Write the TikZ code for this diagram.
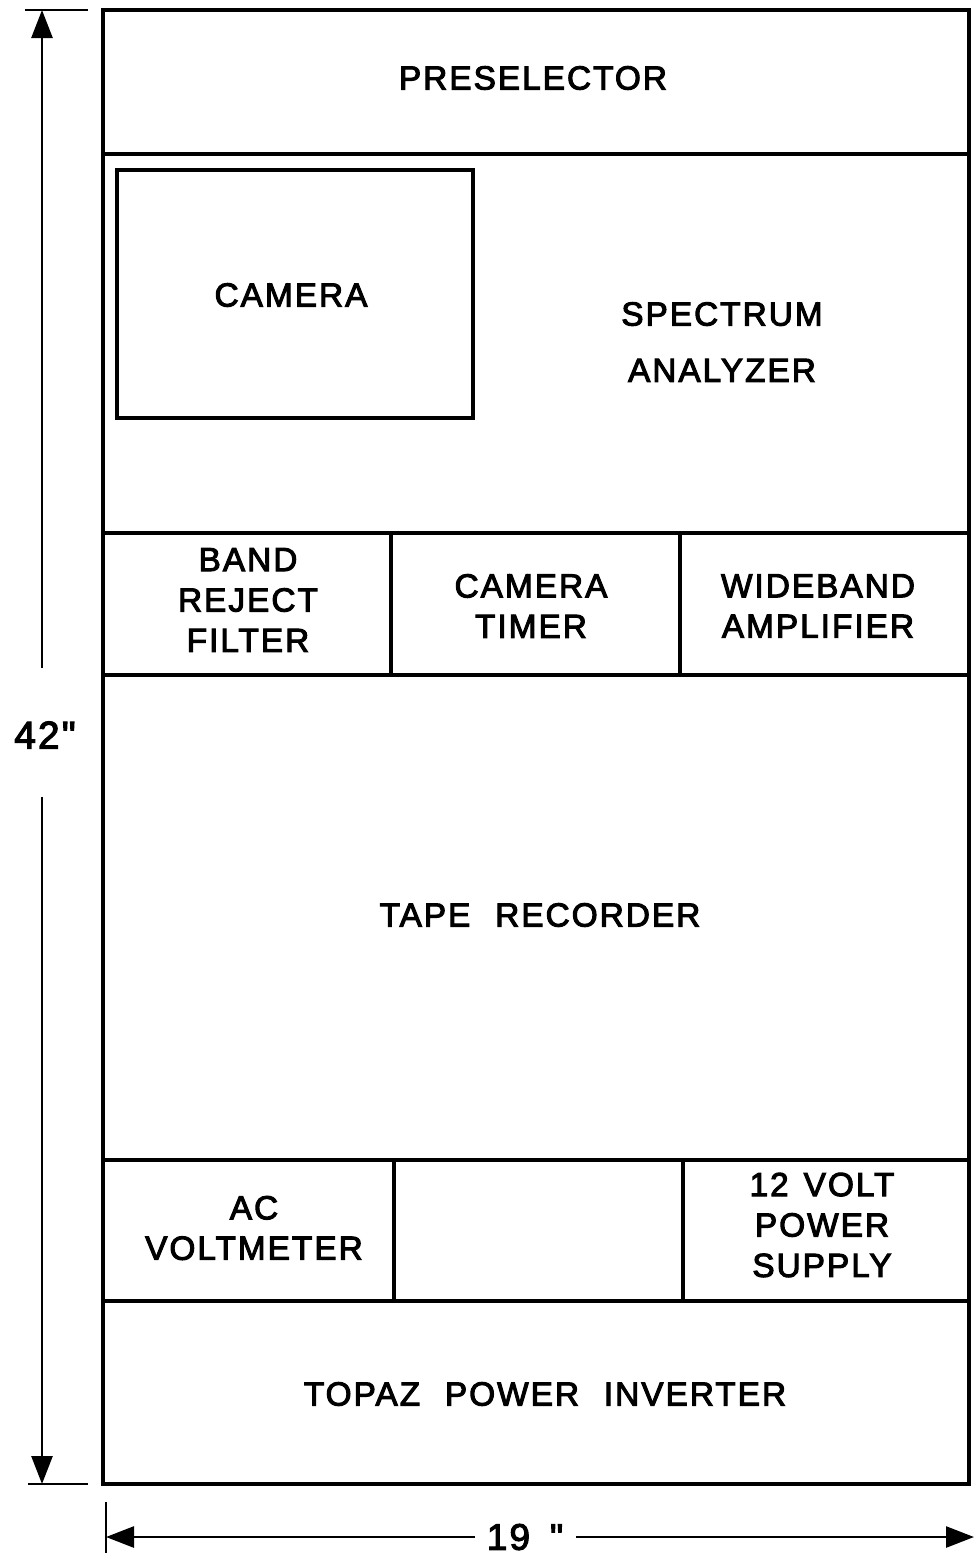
\documentclass[tikz,border=0pt]{standalone}
\usepackage{fontspec}
\usepackage{tikz}
\usetikzlibrary{arrows.meta}
\newfontfamily\letterfont[LetterSpace=6, WordSpace=2.2, FakeBold=3]{Liberation Sans}

\begin{document}
\begin{tikzpicture}[
            cell/.style={draw, line width=1.9pt, inner sep=0pt},
            lbl/.style={align=center, font=\letterfont\fontsize{19}{23}\selectfont},
            dim/.style={line width=1.5pt},
            dimarr/.style={-{Triangle[length=0.56cm, width=0.42cm]}, line width=1.5pt}
        ]
            \useasboundingbox (0,0) rectangle (19.48,-31.16);

            % rack outline, top to bottom
            \node[cell, minimum width=17.32cm, minimum height=2.88cm] (presel) at (10.72,-1.64) {};
            \node[cell, minimum width=17.32cm, minimum height=7.58cm] (spec)   at (10.72,-6.87) {};
            \node[cell, minimum width=7.12cm, minimum height=4.96cm]  (cam)    at (5.90,-5.88) {};

            \node[cell, minimum width=5.76cm, minimum height=2.84cm] (brf)   at (4.94,-12.08) {};
            \node[cell, minimum width=5.78cm, minimum height=2.84cm] (timer) at (10.71,-12.08) {};
            \node[cell, minimum width=5.78cm, minimum height=2.84cm] (amp)   at (16.49,-12.08) {};

            \node[cell, minimum width=17.32cm, minimum height=9.70cm] (tape) at (10.72,-18.35) {};

            \node[cell, minimum width=5.82cm, minimum height=2.82cm] (acv)   at (4.97,-24.61) {};
            \node[cell, minimum width=5.78cm, minimum height=2.82cm] (empty) at (10.77,-24.61) {};
            \node[cell, minimum width=5.72cm, minimum height=2.82cm] (psu)   at (16.52,-24.61) {};

            \node[cell, minimum width=17.32cm, minimum height=3.66cm] (topaz) at (10.72,-27.85) {};

            % labels
            \node[lbl] (preseltxt) at (10.66,-1.56) {PRESELECTOR};
            \node[lbl] (camtxt)    at (5.82,-5.90)  {CAMERA};
            \node[lbl, font=\letterfont\fontsize{19}{32}\selectfont] (spectxt) at (14.44,-6.84) {SPECTRUM\\ANALYZER};
            \node[lbl] (brftxt)    at (4.96,-12.00)  {BAND\\REJECT\\FILTER};
            \node[lbl] (timertxt)  at (10.62,-12.12) {CAMERA\\TIMER};
            \node[lbl] (amptxt)    at (16.36,-12.12) {WIDEBAND\\AMPLIFIER};
            \node[lbl] (tapetxt)   at (10.80,-18.30) {TAPE RECORDER};
            \node[lbl] (acvtxt)    at (5.08,-24.56)  {AC\\VOLTMETER};
            \node[lbl] (psutxt)    at (16.44,-24.50) {12\hspace{0.3cm}VOLT\\POWER\\SUPPLY};
            \node[lbl] (topaztxt)  at (10.90,-27.88) {TOPAZ POWER INVERTER};

            % 42 inch dimension
            \coordinate (htop) at (0.84,-0.20);
            \coordinate (hbot) at (0.84,-29.68);
            \coordinate (hup) at (0.84,-13.36);
            \coordinate (hdn) at (0.84,-15.94);
            \node[lbl, font=\letterfont\fontsize{22}{26}\selectfont] (height) at (0.90,-14.70) {42"};
            \draw[dim] (0.50,-0.20) -- (1.76,-0.20);
            \draw[dim] (0.56,-29.68) -- (1.76,-29.68);
            \draw[dimarr] (hup) -- (htop);
            \draw[dimarr] (hdn) -- (hbot);

            % 19 inch dimension
            \coordinate (wleft) at (2.12,-30.74);
            \coordinate (wright) at (19.48,-30.74);
            \coordinate (wl) at (9.50,-30.74);
            \coordinate (wr) at (11.52,-30.74);
            \node[lbl, font=\letterfont\fontsize{21}{25}\selectfont] (width) at (10.50,-30.74) {19\hspace{0.4cm}"};
            \draw[dim] (2.12,-30.04) -- (2.12,-31.06);
            \draw[dimarr] (wl) -- (wleft);
            \draw[dimarr] (wr) -- (wright);

        \end{tikzpicture}
\end{document}
